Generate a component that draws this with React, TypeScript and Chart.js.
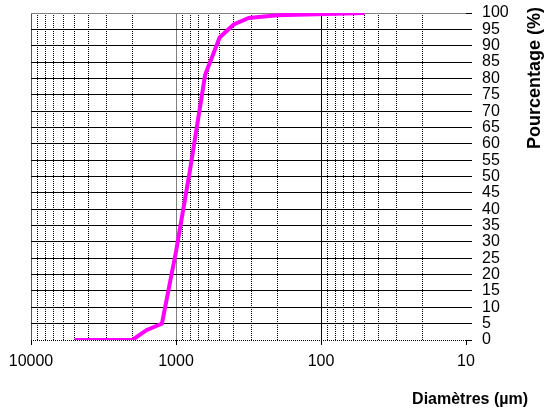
import { useEffect, useRef } from "react";
import { Chart, registerables } from "chart.js";

Chart.register(...registerables);

// Data (sieve diameter in µm, cumulative %)
const diameters = [5000, 2000, 1600, 1250, 1000, 800, 630, 500, 400, 315, 200, 50];
const percentages = [0, 0, 3, 5, 27, 52, 81, 92.5, 96.5, 98.5, 99.3, 100];

// Axis ticks
const xMajorTicks = [10000, 1000, 100, 10];
const xGridValues = [
  10, 20, 30, 40, 50, 60, 70, 80, 90,
  100, 200, 300, 400, 500, 600, 700, 800, 900,
  1000, 2000, 3000, 4000, 5000, 6000, 7000, 8000, 9000,
  10000,
];
const yMin = 0;
const yMax = 100;
const yStep = 5;

const xTitle = "Diamètres (µm)";
const yTitle = "Pourcentage (%)";

const FONT = '"Liberation Sans", Arial, Helvetica, sans-serif';

const titlePlugin = {
  id: "customTitles",
  afterDraw(chart: any) {
    const ctx = chart.ctx;
    const { width, height, chartArea } = chart;
    ctx.save();
    ctx.fillStyle = "#000";
    ctx.font = `bold 16px ${FONT}`;
    ctx.textAlign = "right";
    ctx.textBaseline = "alphabetic";
    ctx.fillText(xTitle, width - 27, height - 9);

    ctx.font = `bold 18px ${FONT}`;
    ctx.translate(width - 15, chartArea.top - 6);
    ctx.rotate(-Math.PI / 2);
    ctx.textAlign = "right";
    ctx.fillText(yTitle, 0, 0);
    ctx.restore();
  },
};

export default function App() {
  const canvasRef = useRef<HTMLCanvasElement | null>(null);

  useEffect(() => {
    if (!canvasRef.current) return;
    const chart = new Chart(canvasRef.current, {
      type: "line",
      data: {
        datasets: [
          {
            data: diameters.map((d, i) => ({ x: d, y: percentages[i] })),
            borderColor: "#FF00FF",
            backgroundColor: "#FF00FF",
            borderWidth: 4,
            pointRadius: 0,
            tension: 0,
            fill: false,
          },
        ],
      },
      options: {
        responsive: false,
        animation: false,
        layout: { padding: { left: 31, top: 13, right: 0, bottom: 0 } },
        plugins: {
          legend: { display: false },
          tooltip: { enabled: false },
        },
        scales: {
          x: {
            type: "logarithmic",
            reverse: true,
            min: 10,
            max: 10000,
            afterBuildTicks: (scale: any) => {
              scale.ticks = xGridValues.map((v) => ({ value: v }));
            },
            afterFit: (scale: any) => {
              scale.height = 73;
              scale.paddingLeft = 0;
              scale.paddingRight = 0;
              scale.paddingTop = 0;
              scale.paddingBottom = 0;
            },
            border: {
              display: false,
              dash: (ctx: any) => {
                const v = ctx.tick ? ctx.tick.value : 0;
                return xMajorTicks.includes(v) ? [] : [1, 1];
              },
            },
            grid: {
              color: (ctx: any) => {
                const v = ctx.tick ? ctx.tick.value : 0;
                if (v === 10) return "rgba(0,0,0,0)";
                if (v === 10000) return "#555";
                if (v === 1000) return "#808080";
                return "#000";
              },
              lineWidth: 1,
              tickLength: 5,
              tickColor: (ctx: any) => {
                const v = ctx.tick ? ctx.tick.value : 0;
                return xMajorTicks.includes(v) ? "#000" : "rgba(0,0,0,0)";
              },
            },
            ticks: {
              autoSkip: false,
              maxRotation: 0,
              padding: 7,
              color: "#000",
              font: { family: FONT, size: 16 },
              callback: (value: any) =>
                xMajorTicks.includes(Number(value)) ? String(value) : "",
            },
          },
          y: {
            type: "linear",
            position: "right",
            min: yMin,
            max: yMax,
            afterFit: (scale: any) => {
              scale.width = 89;
              scale.paddingLeft = 0;
              scale.paddingRight = 0;
              scale.paddingTop = 0;
              scale.paddingBottom = 0;
            },
            border: {
              display: false,
              dash: (ctx: any) => {
                const v = ctx.tick ? ctx.tick.value : 1;
                return v === 0 ? [1, 1] : [];
              },
            },
            grid: {
              color: (ctx: any) => {
                const v = ctx.tick ? ctx.tick.value : 0;
                if (v === 100) return "#808080";
                return "#000";
              },
              lineWidth: 1,
              tickLength: 6,
              tickColor: "#000",
            },
            ticks: {
              stepSize: yStep,
              autoSkip: false,
              padding: 10,
              color: "#000",
              font: { family: FONT, size: 16 },
            },
          },
        },
      },
      plugins: [titlePlugin],
    } as any);
    return () => chart.destroy();
  }, []);

  return (
    <div style={{ position: "absolute", left: 0, top: 0, width: 555, height: 413, background: "#fff" }}>
      <canvas ref={canvasRef} width={555} height={413} style={{ display: "block" }} />
    </div>
  );
}
